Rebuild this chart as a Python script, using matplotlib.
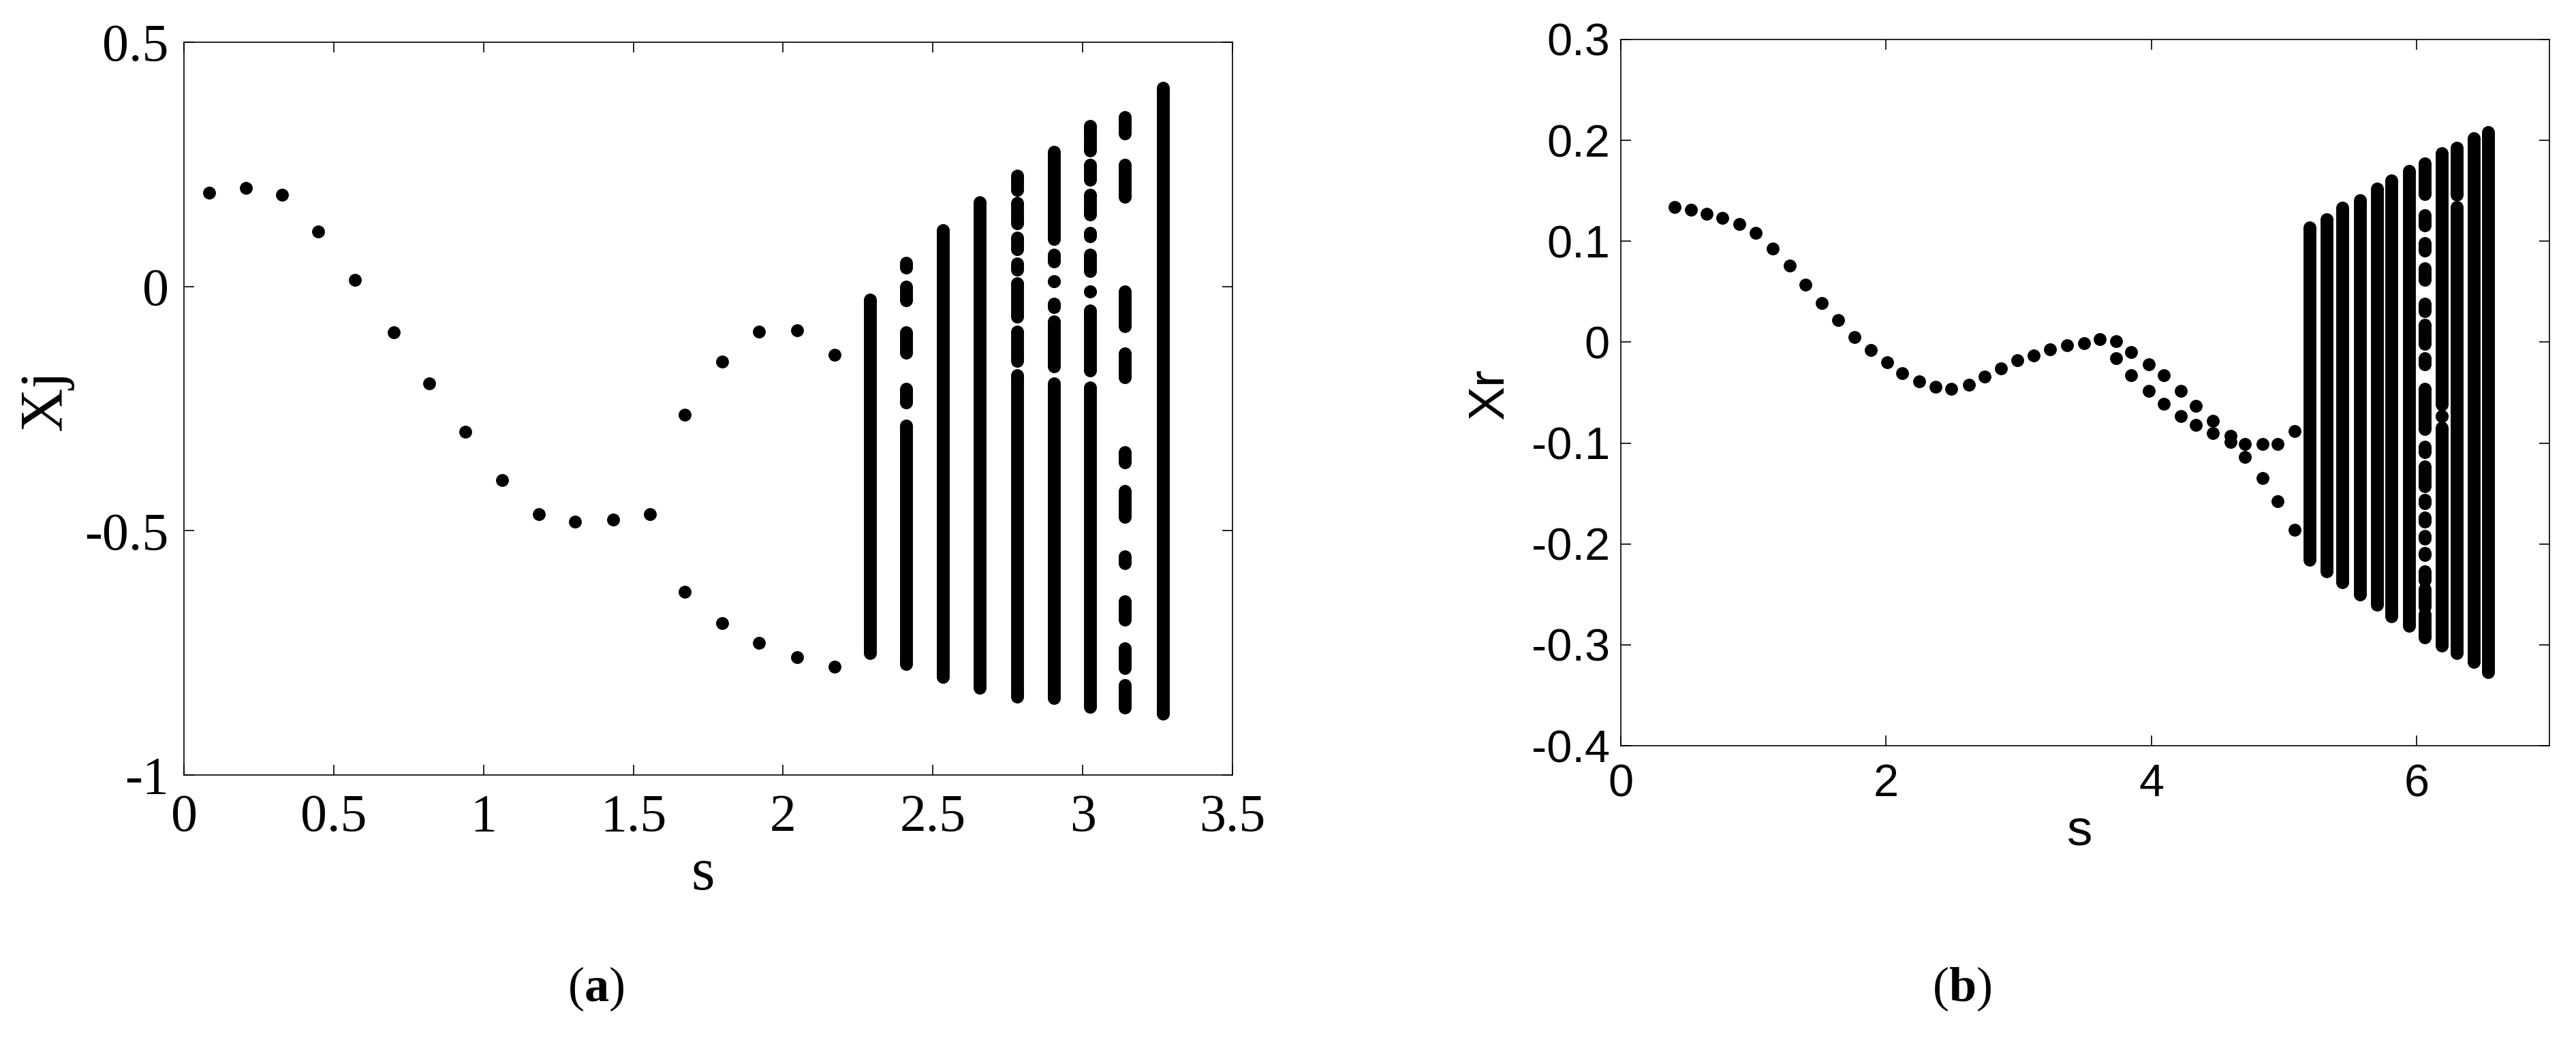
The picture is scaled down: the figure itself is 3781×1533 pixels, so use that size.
import matplotlib
matplotlib.use("Agg")
import matplotlib.pyplot as plt

plt.rcParams['axes.unicode_minus'] = False
plt.rcParams['mathtext.fontset'] = 'custom'
plt.rcParams['mathtext.rm'] = 'Liberation Serif'
plt.rcParams['mathtext.bf'] = 'Liberation Serif:bold'

# ---- panel (a): Xj vs s ----
a_s = [0.085, 0.207, 0.328, 0.449, 0.570, 0.700, 0.818, 0.939, 1.063,
       1.185, 1.306, 1.433, 1.556]
a_x = [0.192, 0.202, 0.188, 0.113, 0.014, -0.094, -0.198, -0.298, -0.396,
       -0.466, -0.482, -0.477, -0.466]
# period-2 branch
a_s2 = [1.672, 1.796, 1.920, 2.047, 2.171]
a_x2_up = [-0.263, -0.154, -0.093, -0.090, -0.140]
a_x2_dn = [-0.625, -0.689, -0.729, -0.759, -0.779]
# chaotic columns: (low, high) runs of packed dots
a_col_s = [2.290, 2.410, 2.534, 2.656, 2.782, 2.904, 3.025, 3.140, 3.267]
a_col_runs = [
    [(-0.750, -0.027)],
    [(0.038, 0.049), (-0.029, 0.0), (-0.136, -0.094), (-0.238, -0.210),
     (-0.773, -0.285)],
    [(-0.799, 0.115)],
    [(-0.822, 0.172)],
    [(0.198, 0.227), (0.129, 0.171), (0.076, 0.100), (0.034, 0.047),
     (-0.062, 0.006), (-0.152, -0.092), (-0.839, -0.181)],
    [(0.097, 0.276), (0.051, 0.065), (0.010, 0.010), (-0.042, -0.035),
     (-0.163, -0.072), (-0.842, -0.198)],
    [(0.278, 0.328), (0.218, 0.249), (0.148, 0.188), (0.102, 0.109),
     (0.032, 0.065), (-0.010, -0.010), (-0.172, -0.049), (-0.860, -0.207)],
    [(0.313, 0.346), (0.183, 0.249), (-0.082, -0.010), (-0.186, -0.137),
     (-0.360, -0.339), (-0.472, -0.419), (-0.567, -0.553), (-0.682, -0.645),
     (-0.781, -0.741), (-0.862, -0.816)],
    [(-0.874, 0.407)],
]
a_xticks = [0, 0.5, 1, 1.5, 2, 2.5, 3, 3.5]
a_xticklabels = ["0", "0.5", "1", "1.5", "2", "2.5", "3", "3.5"]
a_yticks = [-1, -0.5, 0, 0.5]
a_yticklabels = ["-1", "-0.5", "0", "0.5"]

# ---- panel (b): Xr vs s ----
b_s = [0.406, 0.529, 0.646, 0.763, 0.892, 1.015, 1.145, 1.274, 1.391, 1.514,
       1.637, 1.760, 1.883, 2.006, 2.123, 2.252, 2.375, 2.492, 2.622, 2.745,
       2.868, 2.991, 3.114, 3.237, 3.362, 3.494, 3.608]
b_x = [0.134, 0.131, 0.127, 0.123, 0.117, 0.108, 0.093, 0.076, 0.057, 0.039,
       0.022, 0.005, -0.008, -0.020, -0.031, -0.039, -0.044, -0.046, -0.042,
       -0.034, -0.026, -0.018, -0.013, -0.007, -0.003, -0.001, 0.003]
b_s2 = [3.735, 3.849, 3.981, 4.095, 4.222, 4.336, 4.465, 4.597, 4.706, 4.838,
        4.952, 5.078]
b_x2_up = [0.001, -0.010, -0.022, -0.033, -0.048, -0.063, -0.078, -0.093,
           -0.101, -0.101, -0.101, -0.088]
b_x2_dn = [-0.016, -0.033, -0.048, -0.061, -0.073, -0.082, -0.090, -0.099,
           -0.114, -0.135, -0.158, -0.186]
b_col_s = [5.19, 5.32, 5.44, 5.57, 5.70, 5.81, 5.94, 6.06, 6.19, 6.30, 6.43, 6.54]
b_col_runs = [
    [(-0.216, 0.114)],
    [(-0.227, 0.122)],
    [(-0.238, 0.133)],
    [(-0.250, 0.141)],
    [(-0.260, 0.152)],
    [(-0.272, 0.160)],
    [(-0.281, 0.170)],
    [(0.147, 0.177), (0.116, 0.126), (0.091, 0.098), (0.062, 0.073),
     (0.031, 0.038), (-0.002, 0.017), (-0.022, -0.016), (-0.086, -0.046),
     (-0.109, -0.104), (-0.143, -0.123), (-0.160, -0.156), (-0.178, -0.174),
     (-0.195, -0.192), (-0.211, -0.209), (-0.236, -0.227), (-0.262, -0.245),
     (-0.293, -0.270)],
    [(-0.062, 0.187), (-0.073, -0.073), (-0.301, -0.085)],
    [(0.146, 0.193), (-0.308, 0.134)],
    [(-0.317, 0.202)],
    [(-0.327, 0.208)],
]
b_xticks = [0, 2, 4, 6]
b_xticklabels = ["0", "2", "4", "6"]
b_yticks = [-0.4, -0.3, -0.2, -0.1, 0, 0.1, 0.2, 0.3]
b_yticklabels = ["-0.4", "-0.3", "-0.2", "-0.1", "0", "0.1", "0.2", "0.3"]

W, H, DPI = 3781, 1533, 200
fig = plt.figure(figsize=(W / DPI, H / DPI), dpi=DPI)

MS = 6.8  # dot diameter in points


def px_axes(left, top, right, bottom):
    return [left / W, 1 - bottom / H, (right - left) / W, (bottom - top) / H]


def draw_columns(ax, s_list, runs_list):
    for s, runs in zip(s_list, runs_list):
        for lo, hi in runs:
            ax.plot([s, s], [lo, hi], color='k', lw=MS, marker='o', ms=MS,
                    mew=0, solid_capstyle='butt')


def style_axes(ax, family, size, xpad, ypad):
    for sp in ax.spines.values():
        sp.set_linewidth(0.6)
    ax.tick_params(direction='in', length=5.5, width=0.6, top=True, right=True,
                   labelsize=size)
    ax.tick_params(axis='x', pad=xpad)
    ax.tick_params(axis='y', pad=ypad)
    for lab in ax.get_xticklabels() + ax.get_yticklabels():
        lab.set_family(family)


# panel (a)
ax1 = fig.add_axes(px_axes(270, 62, 1809, 1138))
ax1.plot(a_s, a_x, 'o', color='k', ms=MS, mew=0)
ax1.plot(a_s2, a_x2_up, 'o', color='k', ms=MS, mew=0)
ax1.plot(a_s2, a_x2_dn, 'o', color='k', ms=MS, mew=0)
draw_columns(ax1, a_col_s, a_col_runs)
ax1.set_xlim(0, 3.5)
ax1.set_ylim(-1, 0.5)
ax1.set_xticks(a_xticks)
ax1.set_xticklabels(a_xticklabels)
ax1.set_yticks(a_yticks)
ax1.set_yticklabels(a_yticklabels)
style_axes(ax1, 'Liberation Serif', 28, 10, 8)

# panel (b)
ax2 = fig.add_axes(px_axes(2379, 58, 3742, 1095))
ax2.plot(b_s, b_x, 'o', color='k', ms=MS, mew=0)
ax2.plot(b_s2, b_x2_up, 'o', color='k', ms=MS, mew=0)
ax2.plot(b_s2, b_x2_dn, 'o', color='k', ms=MS, mew=0)
draw_columns(ax2, b_col_s, b_col_runs)
ax2.set_xlim(0, 7)
ax2.set_ylim(-0.4, 0.3)
ax2.set_xticks(b_xticks)
ax2.set_xticklabels(b_xticklabels)
ax2.set_yticks(b_yticks)
ax2.set_yticklabels(b_yticklabels)
style_axes(ax2, 'Liberation Sans', 24, 9.5, 5.8)

# axis labels
fig.text(67 / W, 1 - 588 / H, 'Xj', rotation=90, ha='center', va='center',
         family='Liberation Serif', fontsize=32)
fig.text(1032 / W, 1 - 1306 / H, 's', ha='center', va='baseline',
         family='Liberation Serif', fontsize=32)
fig.text(2187 / W, 1 - 579 / H, 'Xr', rotation=90, ha='center', va='center',
         family='Liberation Sans', fontsize=27)
fig.text(3053 / W, 1 - 1242 / H, 's', ha='center', va='baseline',
         family='Liberation Sans', fontsize=27)

# panel tags
fig.text(875 / W, 1 - 1452 / H, r'($\mathbf{a}$)', ha='center', va='center',
         family='Liberation Serif', fontsize=26)
fig.text(2880 / W, 1 - 1452 / H, r'($\mathbf{b}$)', ha='center', va='center',
         family='Liberation Serif', fontsize=26)

fig.savefig('out.png', dpi=DPI)
